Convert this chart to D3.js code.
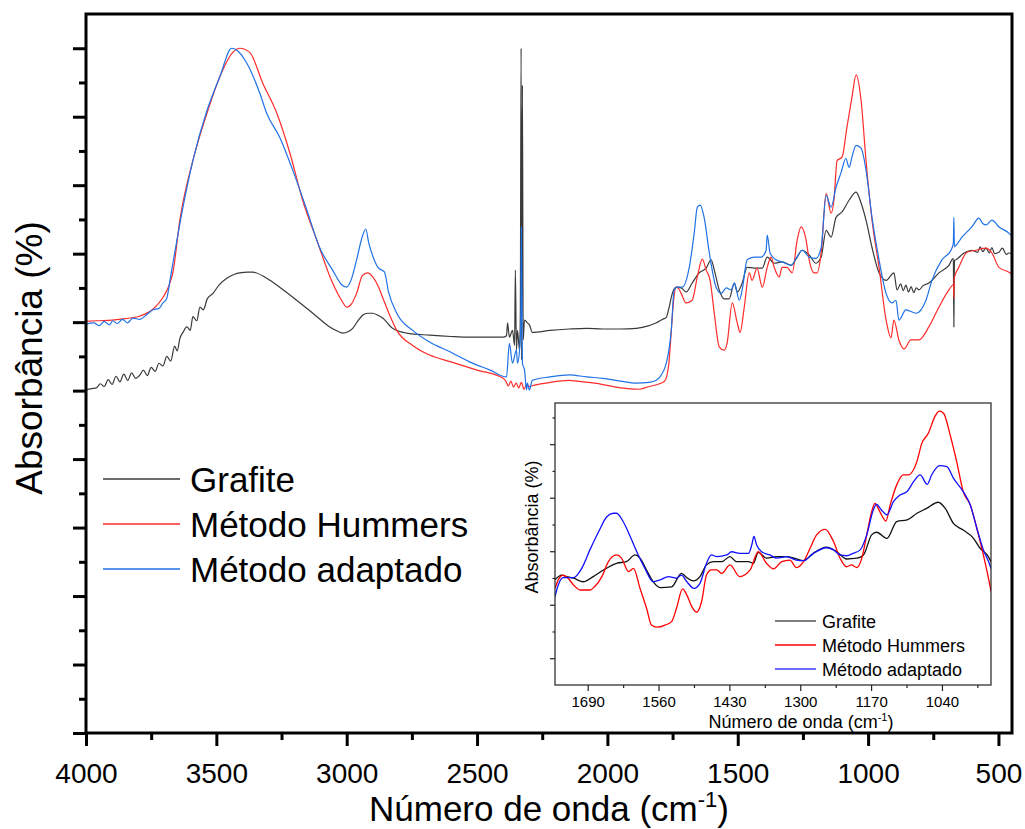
<!DOCTYPE html>
<html><head><meta charset="utf-8">
<script src="https://cdn.jsdelivr.net/npm/d3@7"></script>
<style>body{margin:0;background:#fff} svg text{font-family:"Liberation Sans",Arial,sans-serif;fill:#000}</style>
</head><body>
<svg id="c" width="1025" height="829"></svg>
<script>
// ---------- DATA ----------
const seriesNames = ["Grafite", "Método Hummers", "Método adaptado"];
const mainXTicks = [4000, 3500, 3000, 2500, 2000, 1500, 1000, 500];
const mainXMinor = [3750, 3250, 2750, 2250, 1750, 1250, 750];
const mainYMajor = [0, 10, 20, 30, 40, 50, 60, 70, 80, 90, 100];
const mainYMinor = [5, 15, 25, 35, 45, 55, 65, 75, 85, 95];
const insetXTicks = [1690, 1560, 1430, 1300, 1170, 1040];
const insetXMinor = [1625, 1495, 1365, 1235, 1105, 975];
const insetYMajor = [1, 3, 5, 7, 9];
const insetYMinor = [2, 4, 6, 8, 10];

// main spectrum: [wavenumber, absorbance]
const grafite = [[4000,50.1],[3980,50.3],[3960,50.4],[3945,51.0],[3930,50.6],[3915,51.6],[3900,50.9],[3885,52.1],[3870,51.3],[3855,52.4],[3840,51.5],[3825,52.6],[3810,51.8],[3793,52.3],[3780,53.0],[3765,52.2],[3750,53.4],[3735,52.8],[3720,54.0],[3705,53.6],[3690,55.0],[3675,54.3],[3660,56.5],[3650,55.8],[3640,57.6],[3628,58.5],[3613,59.3],[3600,58.8],[3590,60.8],[3575,60.2],[3563,62.2],[3550,61.8],[3535,63.4],[3513,64.2],[3490,65.4],[3460,66.4],[3430,67.0],[3410,67.2],[3380,67.3],[3360,67.3],[3307,66.4],[3257,65.1],[3192,63.2],[3130,61.3],[3065,59.3],[3030,58.6],[3015,58.4],[2995,58.6],[2977,59.1],[2955,60.3],[2939,61.0],[2920,61.3],[2900,61.3],[2880,61.0],[2862,60.6],[2824,59.1],[2770,58.4],[2682,58.1],[2600,57.9],[2529,57.8],[2400,57.8],[2387,58.0],[2383,59.9],[2376,57.8],[2364,58.8],[2356,56.6],[2353,67.6],[2349,55.9],[2345,58.8],[2337,55.9],[2334,61.0],[2331,100],[2329,54.5],[2326,94.6],[2323,57.4],[2318,60.3],[2307,59.9],[2299,59.6],[2288,58.5],[2220,58.8],[2146,59.0],[2080,59.1],[2019,59.0],[1950,59.0],[1889,59.1],[1840,59.5],[1812,59.9],[1790,60.4],[1774,60.7],[1763,62.2],[1751,64.2],[1736,65.1],[1717,65.0],[1698,64.4],[1675,65.7],[1648,67.2],[1621,67.9],[1602,69.1],[1590,67.6],[1571,64.7],[1552,63.4],[1533,63.4],[1513,65.7],[1502,64.4],[1483,65.7],[1464,68.0],[1437,67.9],[1406,67.9],[1387,69.5],[1360,68.6],[1330,68.8],[1295,68.3],[1272,69.5],[1253,70.5],[1226,69.8],[1200,68.6],[1180,69.5],[1161,73.4],[1142,72.4],[1123,75.3],[1100,76.1],[1073,77.8],[1046,79.0],[1027,77.4],[1008,74.9],[985,70.9],[958,67.2],[931,66.1],[901,67.2],[889,64.7],[875,65.6],[865,64.6],[855,65.4],[845,64.4],[835,65.2],[825,64.3],[815,65.0],[805,64.7],[790,65.3],[767,65.7],[728,67.2],[690,68.3],[673,69.3],[671,59.3],[669,69.0],[663,69.1],[632,70.1],[602,70.5],[580,70.2],[570,71.0],[560,70.3],[548,70.8],[535,70.1],[525,70.9],[515,70.0],[498,70.2],[485,70.8],[470,69.9],[460,70.1],[448,70.0]];

const hummers = [[4000,60.1],[3960,60.2],[3900,60.3],[3850,60.5],[3793,60.9],[3740,62.0],[3705,63.6],[3680,65.5],[3667,67.2],[3640,74.9],[3590,83.6],[3536,90.5],[3487,95.8],[3437,99.4],[3410,100],[3372,99.4],[3322,94.9],[3268,90.5],[3218,84.7],[3169,77.8],[3115,72.0],[3054,65.7],[3020,63.2],[3000,62.2],[2985,62.5],[2962,64.2],[2940,66.8],[2920,67.2],[2900,66.6],[2880,65.3],[2862,63.6],[2835,61.0],[2808,58.8],[2747,56.6],[2682,55.2],[2600,54.2],[2500,53.0],[2400,51.8],[2390,51.4],[2380,50.7],[2370,51.4],[2360,50.5],[2350,51.1],[2340,50.4],[2330,51.2],[2320,50.2],[2310,50.9],[2300,50.6],[2280,50.8],[2220,51.2],[2150,51.5],[2100,51.3],[2050,51.1],[1950,50.4],[1880,50.2],[1840,50.6],[1800,51.0],[1780,51.4],[1765,53.7],[1752,60.3],[1744,63.9],[1736,65.1],[1725,64.8],[1717,64.2],[1698,62.8],[1675,63.2],[1655,66.6],[1636,69.2],[1621,67.6],[1606,66.1],[1590,61.3],[1571,56.4],[1552,55.9],[1541,56.9],[1521,62.8],[1502,59.9],[1491,58.5],[1475,62.2],[1456,67.2],[1445,66.1],[1426,67.9],[1406,65.1],[1387,68.0],[1372,69.5],[1360,68.0],[1341,66.6],[1330,68.0],[1311,68.0],[1291,67.2],[1272,72.0],[1257,73.9],[1238,72.0],[1226,69.1],[1207,67.2],[1196,67.2],[1180,70.1],[1161,78.8],[1142,75.9],[1131,77.8],[1119,83.6],[1100,84.1],[1081,88.5],[1062,92.8],[1046,96.1],[1027,92.4],[1008,83.6],[985,74.9],[958,68.0],[931,60.3],[912,57.7],[901,60.3],[882,57.4],[862,56.1],[836,57.4],[805,57.4],[767,59.3],[728,62.2],[690,64.7],[672,65.5],[671,63.5],[670,66.4],[652,68.0],[621,70.2],[587,70.5],[548,70.8],[525,70.1],[498,68.0],[460,67.3],[448,67.0]];

const adaptado = [[4000,59.7],[3970,59.9],[3950,59.5],[3930,60.1],[3910,59.6],[3897,60.2],[3880,59.8],[3860,60.4],[3840,59.9],[3820,60.6],[3793,60.4],[3770,61.0],[3743,61.8],[3720,62.0],[3705,62.8],[3690,63.5],[3678,66.1],[3665,69.0],[3651,72.0],[3628,76.8],[3590,83.6],[3536,90.9],[3487,95.8],[3441,100],[3421,99.7],[3383,97.8],[3333,93.4],[3307,90.5],[3257,87.0],[3207,82.2],[3153,76.4],[3104,70.9],[3054,67.6],[3020,65.5],[3000,65.1],[2980,66.5],[2962,69.1],[2940,72.5],[2927,73.6],[2915,71.5],[2904,70.1],[2880,68.0],[2866,67.6],[2855,67.3],[2840,64.5],[2808,61.3],[2747,58.8],[2682,57.1],[2600,55.6],[2529,54.2],[2450,53.0],[2387,52.0],[2376,56.9],[2364,54.0],[2349,55.9],[2345,54.0],[2337,55.9],[2332,60.0],[2330,73.9],[2327,58.0],[2326,54.0],[2318,53.0],[2310,50.1],[2307,51.1],[2299,50.1],[2288,51.5],[2220,52.0],[2146,52.3],[2080,52.0],[2019,51.8],[1950,51.4],[1889,51.1],[1840,51.2],[1812,51.5],[1790,52.5],[1774,54.0],[1755,58.8],[1744,64.7],[1732,65.1],[1713,65.1],[1686,68.0],[1667,73.0],[1655,76.8],[1644,77.1],[1629,75.3],[1609,70.1],[1583,65.1],[1563,64.2],[1544,65.0],[1525,64.7],[1513,65.7],[1494,63.2],[1483,64.7],[1464,69.1],[1437,69.5],[1410,69.5],[1391,70.5],[1387,72.7],[1376,70.1],[1353,69.1],[1330,68.8],[1295,68.3],[1276,69.3],[1253,70.5],[1226,69.5],[1200,69.3],[1180,70.9],[1161,78.5],[1142,76.8],[1123,79.7],[1104,81.8],[1085,83.9],[1073,82.6],[1062,84.1],[1046,85.8],[1027,85.4],[1008,82.2],[985,75.3],[958,69.1],[931,64.2],[908,62.8],[893,63.2],[882,60.3],[855,61.8],[816,61.3],[778,63.2],[755,66.1],[717,69.1],[682,70.5],[673,71.5],[671,75.3],[669,71.0],[663,71.2],[640,72.4],[602,73.9],[575,75.2],[560,74.4],[548,74.2],[525,74.9],[498,73.9],[460,73.0],[448,72.5]];

// inset (1750-950 cm-1)
const grafiteInset = [[1750,3.93],[1738,4.11],[1729,4.05],[1716,3.99],[1698,3.86],[1680,4.05],[1661,4.30],[1637,4.55],[1619,4.61],[1603,4.86],[1594,4.74],[1582,4.30],[1570,3.86],[1557,3.64],[1536,3.67],[1518,4.17],[1508,4.01],[1496,3.89],[1484,4.05],[1472,4.49],[1459,4.61],[1444,4.61],[1429,4.80],[1417,4.61],[1395,4.61],[1386,4.55],[1377,4.96],[1362,4.74],[1343,4.80],[1325,4.80],[1307,4.71],[1294,4.65],[1276,4.92],[1252,5.15],[1233,4.98],[1215,4.71],[1196,4.74],[1184,4.86],[1169,5.61],[1160,5.71],[1141,5.48],[1123,6.11],[1104,6.17],[1086,6.42],[1068,6.60],[1047,6.83],[1034,6.60],[1019,6.04],[1001,5.79],[982,5.48],[970,5.11],[957,4.86],[950,4.61]];

const hummersInset = [[1750,3.61],[1744,3.93],[1735,4.11],[1726,3.99],[1716,3.74],[1704,3.55],[1686,3.55],[1677,3.68],[1664,4.05],[1652,4.61],[1637,4.86],[1628,4.74],[1615,4.24],[1606,4.36],[1594,3.61],[1582,2.87],[1573,2.24],[1563,2.16],[1548,2.24],[1536,2.37],[1527,2.87],[1516,3.59],[1508,3.36],[1499,2.93],[1490,2.72],[1481,3.12],[1472,4.11],[1463,4.30],[1453,4.30],[1444,4.17],[1429,4.49],[1411,4.05],[1392,4.30],[1377,4.98],[1362,4.55],[1349,4.34],[1334,4.61],[1319,4.67],[1307,4.39],[1294,4.61],[1282,5.11],[1270,5.61],[1254,5.82],[1239,5.36],[1227,4.74],[1215,4.42],[1206,4.49],[1196,4.39],[1187,4.74],[1178,5.61],[1169,6.48],[1163,6.79],[1154,6.48],[1143,6.13],[1135,6.73],[1123,7.48],[1111,7.85],[1102,7.85],[1086,8.35],[1077,9.03],[1065,9.41],[1053,10.03],[1045,10.24],[1037,10.16],[1025,9.35],[1013,8.35],[1001,7.23],[988,6.73],[976,5.86],[964,4.86],[951,3.61],[950,3.50]];

const adaptadoInset = [[1750,3.30],[1744,3.74],[1735,4.01],[1716,4.01],[1701,4.36],[1686,5.05],[1670,5.73],[1655,6.29],[1643,6.42],[1637,6.42],[1625,6.11],[1612,5.55],[1600,4.98],[1585,4.36],[1570,3.86],[1557,3.93],[1542,4.05],[1527,3.99],[1518,4.11],[1508,3.86],[1495,3.61],[1484,3.80],[1472,4.55],[1463,4.86],[1453,4.80],[1435,4.86],[1426,4.98],[1411,4.92],[1395,4.92],[1389,5.23],[1385,5.55],[1380,5.23],[1371,4.98],[1356,4.86],[1343,4.74],[1325,4.80],[1307,4.67],[1294,4.65],[1276,4.92],[1252,5.13],[1239,5.05],[1227,4.86],[1215,4.83],[1203,4.92],[1190,5.05],[1178,5.61],[1166,6.54],[1160,6.75],[1151,6.54],[1141,6.36],[1129,6.85],[1117,7.10],[1104,7.23],[1092,7.60],[1080,7.85],[1067,7.50],[1059,7.85],[1044,8.20],[1031,8.16],[1019,7.73],[1001,7.23],[988,6.73],[976,5.86],[964,5.05],[951,4.42],[950,4.35]];

// ---------- DRAW ----------
const font = '"Liberation Sans", Arial, sans-serif';
const svg = d3.select("#c");
const mainColors = ["#3a3a3a", "#ff2b2b", "#1f72e6"];
const insetColors = ["#111111", "#ff0000", "#1010ff"];
const insetLegendColors = ["#555555", "#ff0000", "#3a3aff"];

const x = d3.scaleLinear().domain([4000, 448]).range([86, 1012]);
const y = d3.scaleLinear().domain([0, 105]).range([733, 14]);
const line = d3.line().x(d => x(d[0])).y(d => y(d[1])).curve(d3.curveMonotoneX);

svg.append("defs").append("clipPath").attr("id", "clipMain")
  .append("rect").attr("x", 86).attr("y", 14).attr("width", 926).attr("height", 719);

const gLines = svg.append("g").attr("clip-path", "url(#clipMain)");
[[grafite, 0], [hummers, 1], [adaptado, 2]].forEach(([data, i]) => {
  gLines.append("path").datum(data).attr("d", line)
    .attr("fill", "none").attr("stroke", mainColors[i]).attr("stroke-width", 1.2)
    .attr("stroke-linejoin", "round");
});

function styleAxis(g, color, width) {
  g.select(".domain").remove();
  g.selectAll("line").attr("stroke", color).attr("stroke-width", width);
}

// x axis
const gx = svg.append("g").attr("transform", "translate(0,733)");
gx.call(d3.axisBottom(x).tickValues(mainXTicks).tickSize(13).tickSizeOuter(0).tickPadding(17).tickFormat(d3.format("d")));
gx.attr("font-family", font).attr("font-size", 28);
styleAxis(gx, "#000", 3);
gx.selectAll("text").attr("fill", "#000");
const gxm = svg.append("g").attr("transform", "translate(0,733)");
gxm.call(d3.axisBottom(x).tickValues(mainXMinor).tickSize(7).tickSizeOuter(0).tickFormat(""));
styleAxis(gxm, "#000", 3);

// y axis (no labels)
const gy = svg.append("g").attr("transform", "translate(86,0)");
gy.call(d3.axisLeft(y).tickValues(mainYMajor).tickSize(13).tickSizeOuter(0).tickFormat(""));
styleAxis(gy, "#000", 3);
const gym = svg.append("g").attr("transform", "translate(86,0)");
gym.call(d3.axisLeft(y).tickValues(mainYMinor).tickSize(7).tickSizeOuter(0).tickFormat(""));
styleAxis(gym, "#000", 3);

// frame
svg.append("rect").attr("x", 86).attr("y", 14).attr("width", 926).attr("height", 719)
  .attr("fill", "none").attr("stroke", "#000").attr("stroke-width", 3);

// titles
const xt = svg.append("text").attr("x", 549).attr("y", 821).attr("text-anchor", "middle")
  .attr("font-size", 35);
xt.append("tspan").text("Número de onda (cm");
xt.append("tspan").text("-1").attr("font-size", 22).attr("dy", -14);
xt.append("tspan").text(")").attr("dy", 14);

svg.append("text").attr("transform", "translate(42,358) rotate(-90)")
  .attr("text-anchor", "middle").attr("font-size", 37).text("Absorbância (%)");

// main legend
const legY = [479, 524, 569];
seriesNames.forEach((n, i) => {
  svg.append("line").attr("x1", 103).attr("x2", 180).attr("y1", legY[i]).attr("y2", legY[i])
    .attr("stroke", mainColors[i]).attr("stroke-width", 1.3);
  svg.append("text").attr("x", 190).attr("y", legY[i] + 12.5).attr("font-size", 35).text(n);
});

// ---------- INSET ----------
const xi = d3.scaleLinear().domain([1750, 950]).range([555, 991]);
const yi = d3.scaleLinear().domain([0, 10.54]).range([685, 403]);
const lineI = d3.line().x(d => xi(d[0])).y(d => yi(d[1])).curve(d3.curveMonotoneX);

svg.append("rect").attr("x", 555).attr("y", 403).attr("width", 436).attr("height", 282).attr("fill", "#fff");
svg.select("defs").append("clipPath").attr("id", "clipInset")
  .append("rect").attr("x", 555).attr("y", 403).attr("width", 436).attr("height", 282);
const gi = svg.append("g").attr("clip-path", "url(#clipInset)");
[[grafiteInset, 0], [hummersInset, 1], [adaptadoInset, 2]].forEach(([data, i]) => {
  gi.append("path").datum(data).attr("d", lineI)
    .attr("fill", "none").attr("stroke", insetColors[i]).attr("stroke-width", 1.3)
    .attr("stroke-linejoin", "round");
});

const gix = svg.append("g").attr("transform", "translate(0,685)");
gix.call(d3.axisBottom(xi).tickValues(insetXTicks).tickSize(6).tickSizeOuter(0).tickPadding(5).tickFormat(d3.format("d")));
gix.attr("font-family", font).attr("font-size", 15);
styleAxis(gix, "#222", 1.2);
gix.selectAll("text").attr("fill", "#111");
const gixm = svg.append("g").attr("transform", "translate(0,685)");
gixm.call(d3.axisBottom(xi).tickValues(insetXMinor).tickSize(3).tickSizeOuter(0).tickFormat(""));
styleAxis(gixm, "#222", 1.2);

const giy = svg.append("g").attr("transform", "translate(555,0)");
giy.call(d3.axisLeft(yi).tickValues(insetYMajor).tickSize(5).tickSizeOuter(0).tickFormat(""));
styleAxis(giy, "#222", 1.2);
const giym = svg.append("g").attr("transform", "translate(555,0)");
giym.call(d3.axisLeft(yi).tickValues(insetYMinor).tickSize(2.5).tickSizeOuter(0).tickFormat(""));
styleAxis(giym, "#222", 1.2);

svg.append("rect").attr("x", 555).attr("y", 403).attr("width", 436).attr("height", 282)
  .attr("fill", "none").attr("stroke", "#222").attr("stroke-width", 1.2);

const xti = svg.append("text").attr("x", 801).attr("y", 728).attr("text-anchor", "middle").attr("font-size", 18);
xti.append("tspan").text("Número de onda (cm");
xti.append("tspan").text("-1").attr("font-size", 11).attr("dy", -7);
xti.append("tspan").text(")").attr("dy", 7);

svg.append("text").attr("transform", "translate(538,527) rotate(-90)")
  .attr("text-anchor", "middle").attr("font-size", 18).text("Absorbância (%)");

const legYi = [621, 645, 669];
seriesNames.forEach((n, i) => {
  svg.append("line").attr("x1", 775).attr("x2", 816).attr("y1", legYi[i]).attr("y2", legYi[i])
    .attr("stroke", insetLegendColors[i]).attr("stroke-width", 1.3);
  svg.append("text").attr("x", 822).attr("y", legYi[i] + 6.5).attr("font-size", 18).text(n);
});
</script>
</body></html>
